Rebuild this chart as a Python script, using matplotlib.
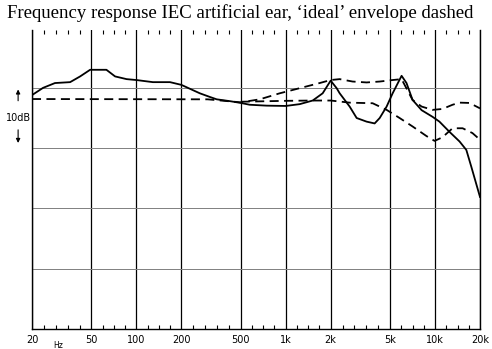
import numpy as np
import matplotlib.pyplot as plt

# measured response (solid)
meas_freq = [20, 23.7, 28.5, 36, 42, 49, 63, 72, 86, 100, 129, 168, 200, 266, 310,
             345, 422, 500, 574, 746, 1000, 1241, 1516, 1768, 2000, 2193, 2298,
             2680, 2986, 3480, 3940, 4260, 4740, 5200, 5970, 6440, 7070, 8130,
             9620, 10700, 12500, 14600, 16200, 17500, 20000]
meas_db = [-1.2, 0.0, 0.8, 0.95, 1.9, 3.0, 3.0, 1.9, 1.45, 1.3, 0.95, 0.95, 0.5,
           -0.9, -1.5, -1.9, -2.2, -2.5, -2.8, -2.95, -3.0, -2.7, -2.1, -0.9, 1.2,
           -0.05, -0.9, -3.1, -5.0, -5.6, -5.9, -5.0, -3.1, -0.9, 2.0, 0.8, -2.0,
           -3.7, -4.8, -5.6, -7.3, -8.9, -10.3, -13.1, -18.1]

# 'ideal' envelope, upper branch (dashed)
upper_freq = [20, 300, 500, 670, 912, 1241, 1688, 2000, 2298, 2806, 3480, 4260,
              5200, 5970, 7070, 8130, 9620, 11200, 13100, 14600, 17000, 20000]
upper_db = [-1.85, -1.9, -2.4, -1.9, -0.9, -0.05, 0.8, 1.3, 1.45, 1.05, 0.9, 1.05,
            1.3, 1.45, -2.0, -3.1, -3.65, -3.5, -2.8, -2.45, -2.5, -3.4]

# 'ideal' envelope, lower branch (dashed)
lower_freq = [500, 1000, 1516, 2000, 2680, 3820, 4740, 5790, 7070, 8770, 9930,
              11200, 13100, 15300, 17800, 20000]
lower_db = [-2.3, -2.15, -2.1, -2.1, -2.45, -2.55, -3.65, -5.0, -6.4, -8.0, -8.8,
            -8.2, -6.7, -6.7, -7.5, -8.6]

major_freqs = [20, 50, 100, 200, 500, 1000, 2000, 5000, 10000, 20000]
major_labels = ["20", "50", "100", "200", "500", "1k", "2k", "5k", "10k", "20k"]
minor_steps = [5, 4, 4, 5, 4, 4, 5, 4, 4]
level_lines = [0, -10, -20, -30]

fig = plt.figure(figsize=(4.92, 3.49), dpi=100)
ax = fig.add_axes([32 / 492, 20 / 349, 448 / 492, 299 / 349])

ax.set_xscale("log")
ax.set_xlim(20, 20000)
ax.set_ylim(-40, 9.6)

for f in major_freqs:
    ax.axvline(f, color="black", lw=0.9, zorder=1)
for lv in level_lines:
    ax.axhline(lv, color="#808080", lw=0.7, zorder=1)

ax.plot(meas_freq, meas_db, color="black", lw=1.3, zorder=3)
ax.plot(upper_freq, upper_db, color="black", lw=1.3, dashes=(5, 3), zorder=3)
ax.plot(lower_freq, lower_db, color="black", lw=1.3, dashes=(5, 3), zorder=3)

minor = []
for a, b, n in zip(major_freqs[:-1], major_freqs[1:], minor_steps):
    minor.extend(np.geomspace(a, b, n + 1)[1:-1])

ax.set_xticks(major_freqs)
ax.set_xticklabels(major_labels, fontsize=7)
ax.set_xticks(minor, minor=True)
ax.set_yticks([])
ax.tick_params(axis="x", which="major", length=0, pad=4)
ax.tick_params(axis="x", which="minor", direction="in", length=3, width=0.8,
               top=True, labelbottom=False)

ax.spines["top"].set_visible(False)
for s in ["left", "right", "bottom"]:
    ax.spines[s].set_linewidth(1.0)

ax.text(0.058, -0.055, "Hz", transform=ax.transAxes, fontsize=5.5,
        ha="center", va="center")

# 10dB scale marker
ax.annotate("", xy=(-0.031, 0.2), xytext=(-0.031, -2.6),
            xycoords=("axes fraction", "data"),
            arrowprops=dict(arrowstyle="-|>", color="black", lw=0.8,
                            mutation_scale=6), annotation_clip=False)
ax.annotate("", xy=(-0.031, -9.6), xytext=(-0.031, -6.5),
            xycoords=("axes fraction", "data"),
            arrowprops=dict(arrowstyle="-|>", color="black", lw=0.8,
                            mutation_scale=6), annotation_clip=False)
ax.text(-0.031, -5.0, "10dB", transform=ax.get_yaxis_transform(),
        fontsize=7, ha="center", va="center")

fig.text(0.488, 0.963, "Frequency response IEC artificial ear, \u2018ideal\u2019 envelope dashed",
         fontsize=13.5, family="Liberation Serif", ha="center", va="center")

fig.savefig("out.png", dpi=100)
